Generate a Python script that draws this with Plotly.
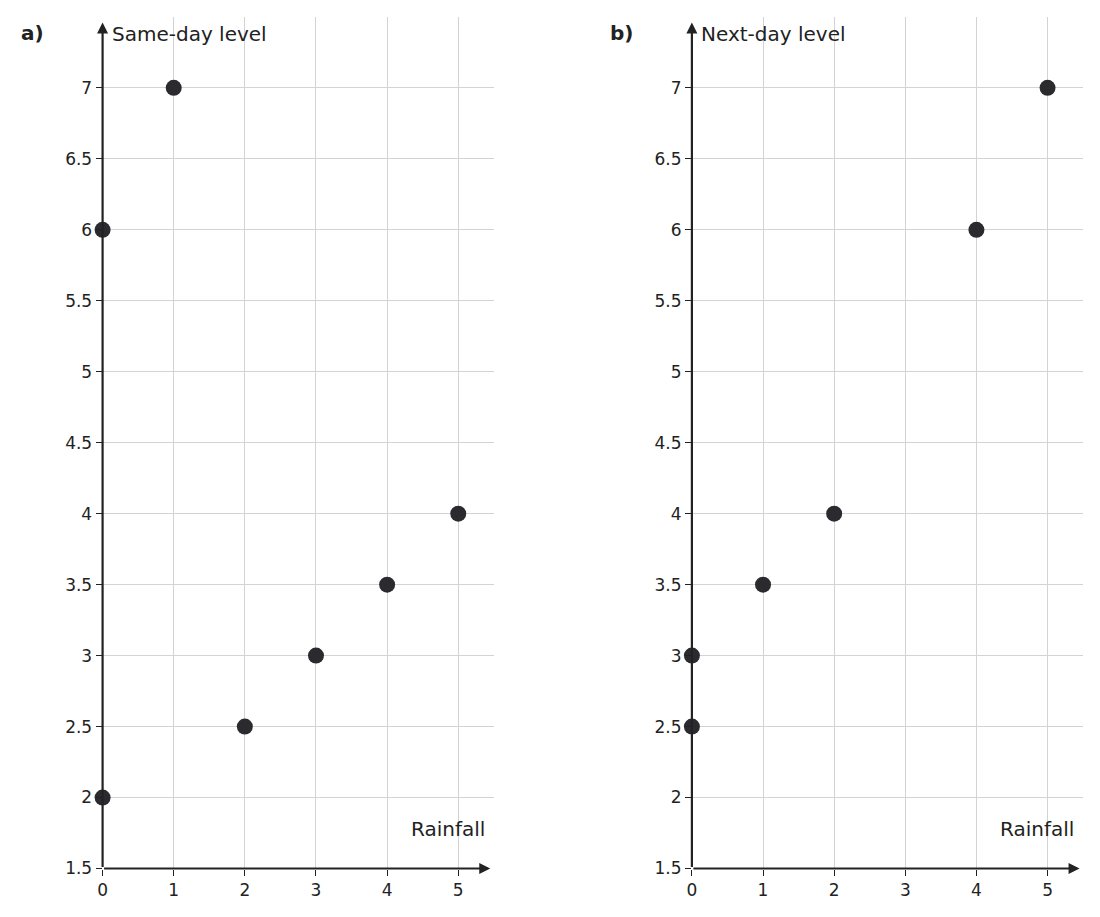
import plotly.graph_objects as go

rain_a = [0, 0, 1, 2, 3, 4, 5]
level_a = [2, 6, 7, 2.5, 3, 3.5, 4]
rain_b = [0, 0, 1, 2, 4, 5]
level_b = [2.5, 3, 3.5, 4, 6, 7]
x_ticks = [0, 1, 2, 3, 4, 5]
y_ticks = [1.5, 2, 2.5, 3, 3.5, 4, 4.5, 5, 5.5, 6, 6.5, 7]
y_labels = ["1.5", "2", "2.5", "3", "3.5", "4", "4.5", "5", "5.5", "6", "6.5", "7"]

W, H = 1100, 917
fig = go.Figure()
panels = [("a)", "Same-day level", rain_a, level_a, 90, 6),
          ("b)", "Next-day level", rain_b, level_b, 682, 598)]
ydom = [(917 - 870) / H, (917 - 9) / H]
for i, (tag, ylab, xs, ys, x0, tx) in enumerate(panels):
    n = "" if i == 0 else "2"
    fig.add_trace(go.Scatter(x=xs, y=ys, mode="markers", xaxis="x" + n, yaxis="y" + n,
                             marker=dict(size=16, color="#2a2a2f"), showlegend=False, cliponaxis=False))
    ax = dict(domain=[x0 / W, (x0 + 393) / W], range=[0, 5.5], tickvals=x_ticks,
              showgrid=True, gridcolor="#d3d3d3", gridwidth=1, zeroline=False, showline=False,
              ticks="outside", ticklen=6, tickcolor="#222", tickfont=dict(size=17, color="#222"),
              fixedrange=True)
    ay = dict(domain=ydom, range=[1.5, 7.5], tickvals=y_ticks, ticktext=y_labels,
              showgrid=True, gridcolor="#d3d3d3", gridwidth=1, zeroline=False, showline=False,
              ticks="outside", ticklen=6, tickcolor="#222", tickfont=dict(size=17, color="#222"),
              fixedrange=True)
    ax["anchor"] = "y" + n
    ay["anchor"] = "x" + n
    fig.layout["xaxis" + n] = ax
    fig.layout["yaxis" + n] = ay
    xr, yr = "x" + n, "y" + n
    fig.add_annotation(x=5.45, y=1.5, ax=0, ay=1.5, xref=xr, yref=yr, axref=xr, ayref=yr,
                       showarrow=True, arrowhead=2, arrowsize=1, arrowwidth=2.2, arrowcolor="#222", text="")
    fig.add_annotation(x=0, y=7.46, ax=0, ay=1.5, xref=xr, yref=yr, axref=xr, ayref=yr,
                       showarrow=True, arrowhead=2, arrowsize=1, arrowwidth=2.2, arrowcolor="#222", text="")
    fig.add_annotation(x=0.1, y=7.38, xref=xr, yref=yr, text=ylab, showarrow=False,
                       xanchor="left", yanchor="middle", font=dict(size=20, color="#222"))
    fig.add_annotation(x=5.4, y=1.68, xref=xr, yref=yr, text="Rainfall", showarrow=False,
                       xanchor="right", yanchor="bottom", font=dict(size=20, color="#222"))
    fig.add_annotation(x=tx / W, y=(917 - 25) / H, xref="paper", yref="paper", text="<b>" + tag + "</b>",
                       showarrow=False, xanchor="left", yanchor="middle", font=dict(size=20, color="#222"))

fig.update_layout(width=W, height=H, margin=dict(l=0, r=0, t=0, b=0),
                  plot_bgcolor="white", paper_bgcolor="white",
                  font=dict(family="DejaVu Sans", color="#222"))
fig.write_html("out.html")
